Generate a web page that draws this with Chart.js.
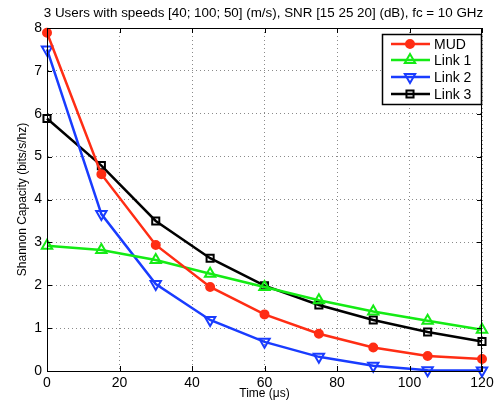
<!DOCTYPE html>
<html>
<head>
<meta charset="utf-8">
<script src="https://cdn.jsdelivr.net/npm/chart.js@4"></script>
<style>
  html, body { margin: 0; padding: 0; background: #fff; }
</style>
</head>
<body>
<canvas id="cap" width="499" height="409"></canvas>
<script>
// time samples (us) and capacity per series
const times = [0, 15, 30, 45, 60, 75, 90, 105, 120];
const mud   = [7.89, 4.59, 2.94, 1.96, 1.32, 0.87, 0.55, 0.35, 0.28];
const link1 = [2.92, 2.82, 2.59, 2.27, 1.96, 1.65, 1.39, 1.17, 0.96];
const link2 = [7.50, 3.66, 2.03, 1.19, 0.68, 0.33, 0.12, 0.02, 0.01];
const link3 = [5.89, 4.79, 3.50, 2.63, 1.99, 1.54, 1.19, 0.91, 0.69];
const seriesNames = ['MUD', 'Link 1', 'Link 2', 'Link 3'];
const xTicks = [0, 20, 40, 60, 80, 100, 120];
const yTicks = [0, 1, 2, 3, 4, 5, 6, 7, 8];
const titleText = '3 Users with speeds [40; 100; 50] (m/s), SNR [15 25 20] (dB), fc = 10 GHz';

const FONT = '"Liberation Sans", Arial, sans-serif';
const RED = 'rgb(255,45,20)', GREEN = 'rgb(20,235,20)', BLUE = 'rgb(25,60,255)', BLACK = '#000';

function pts(vals) { return vals.map((v, i) => ({ x: times[i], y: v })); }

// line style + marker for every series, also reused by the legend
const styles = [
  { color: RED,   pointStyle: 'circle',   radius: 4, rotation: 0,   fill: RED },
  { color: GREEN, pointStyle: 'triangle', radius: 6, rotation: 0,   fill: 'rgba(0,0,0,0)' },
  { color: BLUE,  pointStyle: 'triangle', radius: 6, rotation: 180, fill: 'rgba(0,0,0,0)' },
  { color: BLACK, pointStyle: 'rect',     radius: 5, rotation: 0,   fill: 'rgba(0,0,0,0)' }
];

const allData = [mud, link1, link2, link3];
const datasets = allData.map((vals, i) => ({
  label: seriesNames[i],
  data: pts(vals),
  borderColor: styles[i].color,
  backgroundColor: styles[i].fill,
  borderWidth: 2.5,
  pointStyle: styles[i].pointStyle,
  pointRadius: styles[i].radius,
  pointRotation: styles[i].rotation,
  pointBorderWidth: 2,
  pointBorderColor: styles[i].color,
  pointBackgroundColor: styles[i].fill,
  tension: 0,
  clip: false
}));

// matlab-ish box: title over the plot, top/right border, inward ticks, legend box
const matlabFrame = {
  id: 'matlabFrame',
  afterDraw(chart) {
    const { ctx, chartArea: a, scales } = chart;
    ctx.save();
    ctx.fillStyle = '#000';
    ctx.font = '13.4px ' + FONT;
    ctx.textAlign = 'center';
    ctx.textBaseline = 'middle';
    ctx.fillText(titleText, (a.left + a.right) / 2 - 1, 13);

    ctx.strokeStyle = '#000';
    ctx.lineWidth = 1;
    ctx.setLineDash([]);
    ctx.strokeRect(a.left + 0.5, a.top + 0.5, a.right - a.left - 1, a.bottom - a.top);
    ctx.beginPath();
    xTicks.forEach(t => {
      const x = Math.round(scales.x.getPixelForValue(t)) + 0.5;
      ctx.moveTo(x, a.bottom); ctx.lineTo(x, a.bottom - 5);
      ctx.moveTo(x, a.top); ctx.lineTo(x, a.top + 5);
    });
    yTicks.forEach(t => {
      const y = Math.round(scales.y.getPixelForValue(t)) + 0.5;
      ctx.moveTo(a.left, y); ctx.lineTo(a.left + 5, y);
      ctx.moveTo(a.right, y); ctx.lineTo(a.right - 5, y);
    });
    ctx.stroke();

    // legend
    const lx = 382, ly = 34, lw = 99, lh = 70;
    ctx.fillStyle = '#fff';
    ctx.fillRect(lx, ly, lw, lh);
    ctx.lineWidth = 1.5;
    ctx.strokeRect(lx + 0.5, ly + 0.5, lw, lh);
    const rows = [44, 60, 77, 94];
    ctx.font = '14px ' + FONT;
    ctx.textAlign = 'left';
    ctx.textBaseline = 'middle';
    seriesNames.forEach((name, i) => {
      const s = styles[i], y = rows[i];
      ctx.strokeStyle = s.color;
      ctx.lineWidth = 2.5;
      ctx.beginPath(); ctx.moveTo(391, y); ctx.lineTo(430, y); ctx.stroke();
      ctx.lineWidth = 2;
      ctx.fillStyle = s.fill;
      Chart.helpers.drawPoint(ctx, { pointStyle: s.pointStyle, radius: s.radius, rotation: s.rotation, borderWidth: 2 }, 410, y);
      ctx.fillStyle = '#000';
      ctx.fillText(name, 434, y + 1);
    });
    ctx.restore();
  }
};

new Chart(document.getElementById('cap'), {
  type: 'line',
  data: { datasets },
  plugins: [matlabFrame],
  options: {
    responsive: false,
    animation: false,
    layout: { padding: { left: 0, right: 17, top: 28, bottom: 0 } },
    plugins: {
      legend: { display: false },
      tooltip: { enabled: false },
      title: { display: false }
    },
    scales: {
      x: {
        type: 'linear', min: 0, max: 120,
        afterFit: s => { s.height = 38; },
        afterBuildTicks: s => { s.ticks = xTicks.map(v => ({ value: v })); },
        ticks: { color: '#000', font: { family: FONT, size: 14 }, padding: 4, maxRotation: 0 },
        grid: { color: '#8a8a8a', lineWidth: 1, tickLength: 0, drawTicks: false },
        border: { display: true, color: '#000', width: 1, dash: [1, 3] },
        title: { display: true, text: 'Time (\u03bcs)', color: '#000', font: { family: FONT, size: 12 }, padding: { top: 2, bottom: 8 } }
      },
      y: {
        min: 0, max: 8,
        afterFit: s => { s.width = 47; },
        afterBuildTicks: s => { s.ticks = yTicks.map(v => ({ value: v })); },
        ticks: { color: '#000', font: { family: FONT, size: 14 }, padding: 5 },
        grid: { color: '#8a8a8a', lineWidth: 1, tickLength: 0, drawTicks: false },
        border: { display: true, color: '#000', width: 1, dash: [1, 3] },
        title: { display: true, text: 'Shannon Capacity (bits/s/hz)', color: '#000', font: { family: FONT, size: 12 }, padding: { top: 15, bottom: 0 } }
      }
    }
  }
});
</script>
</body>
</html>
